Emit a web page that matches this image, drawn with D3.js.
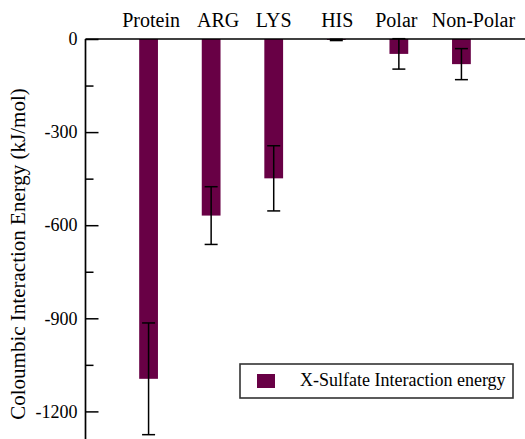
<!DOCTYPE html>
<html><head><meta charset="utf-8">
<script src="https://cdn.jsdelivr.net/npm/d3@7"></script>
<style>body{margin:0;background:#fff}svg{display:block}text{font-family:"Liberation Serif","Times New Roman",serif;fill:#000}</style>
</head><body><svg id="c" width="525" height="439"></svg>
<script>
const categories = ["Protein","ARG","LYS","HIS","Polar","Non-Polar"];
const energy = [-1095, -569, -449, -3, -48, -81];
const errors = [180, 93, 105, 2, 49, 50];
const majorTicks = [0, -300, -600, -900, -1200];
const minorTicks = [-150, -450, -750, -1050];
const yTitle = "Coloumbic Interaction Energy (kJ/mol)";
const legendLabel = "X-Sulfate Interaction energy";
const labelShift = [2.5, 7, 0, 1, -2.5, 12];

const color = "#680045";
const serif = '"Liberation Serif","Times New Roman",serif';
const svg = d3.select("#c");
const axX = 85.5, axY = 39;
const x = d3.scaleBand().domain(categories).range([86, 524]).paddingInner(0.7).paddingOuter(0.85);
const y = d3.scaleLinear().domain([0, -1300]).range([axY, axY + 1300 * 0.31033]);

// bars
svg.append("g").selectAll("rect").data(categories).join("rect")
  .attr("x", d => x(d)).attr("width", x.bandwidth())
  .attr("y", (d,i) => y(Math.max(0, energy[i])))
  .attr("height", (d,i) => Math.abs(y(energy[i]) - y(0)))
  .attr("fill", color);

// error bars
const eb = svg.append("g").attr("stroke", "#000").attr("stroke-width", 1.5);
categories.forEach((c, i) => {
  const cx = x(c) + x.bandwidth() / 2;
  const lo = energy[i] - errors[i], hi = energy[i] + errors[i];
  eb.append("line").attr("x1", cx).attr("x2", cx).attr("y1", y(hi)).attr("y2", y(lo));
  [lo, hi].forEach(v => eb.append("line").attr("x1", cx - 6.5).attr("x2", cx + 6.5).attr("y1", y(v)).attr("y2", y(v)));
});

// y axis major
const ga = svg.append("g").attr("transform", `translate(${axX},0)`)
  .call(d3.axisLeft(y).tickValues(majorTicks).tickSizeInner(-13).tickSizeOuter(0).tickPadding(8).tickFormat(d => String(d)));
ga.attr("font-family", serif).attr("font-size", 18);
ga.select(".domain").remove();
ga.selectAll("line").attr("stroke", "#000").attr("stroke-width", 1.5);
ga.selectAll("text").attr("font-family", serif).attr("font-size", 18).style("font-family", serif);
// minor
svg.append("g").attr("transform", `translate(${axX},0)`)
  .call(d3.axisLeft(y).tickValues(minorTicks).tickSizeInner(-8).tickSizeOuter(0).tickFormat(""))
  .call(g => g.select(".domain").remove())
  .selectAll("line").attr("stroke", "#000").attr("stroke-width", 1.5);

// axis lines
svg.append("line").attr("x1", axX).attr("x2", axX).attr("y1", axY).attr("y2", 439).attr("stroke", "#000").attr("stroke-width", 1.7);
svg.append("line").attr("x1", axX).attr("x2", 525).attr("y1", axY).attr("y2", axY).attr("stroke", "#000").attr("stroke-width", 1.7);

// category labels
svg.append("g").selectAll("text").data(categories).join("text")
  .attr("x", (d,i) => x(d) + x.bandwidth() / 2 + labelShift[i]).attr("y", 27)
  .attr("text-anchor", "middle").style("font-size", "20px").text(d => d);

// y title
svg.append("text").attr("transform", "translate(25,254) rotate(-90)")
  .attr("text-anchor", "middle").style("font-size", "21px").text(yTitle);

// legend
const lg = svg.append("g");
lg.append("rect").attr("x", 240).attr("y", 364).attr("width", 273).attr("height", 34)
  .attr("fill", "#fff").attr("stroke", "#333").attr("stroke-width", 1.6);
lg.append("rect").attr("x", 257).attr("y", 374).attr("width", 18).attr("height", 14).attr("fill", color);
lg.append("text").attr("x", 300).attr("y", 386).style("font-size", "18px").text(legendLabel);
</script></body></html>
